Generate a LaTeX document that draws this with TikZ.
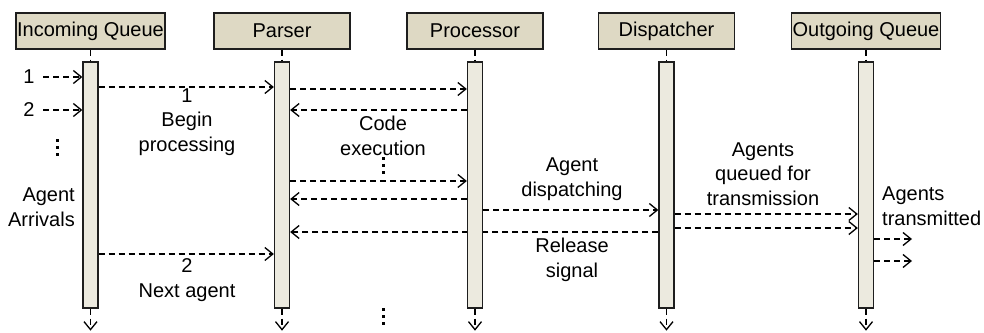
\documentclass[tikz,border=0pt]{standalone}
\usepackage{fontspec}
\setmainfont{Liberation Sans}
\usetikzlibrary{arrows.meta,backgrounds}

\definecolor{headfill}{RGB}{222,217,196}
\definecolor{barfill}{RGB}{236,234,223}
\definecolor{edge}{RGB}{30,30,30}

\tikzset{
  actor/.style={draw=edge, line width=1.3pt, fill=headfill, minimum width=136pt, minimum height=36pt, inner xsep=1pt},
  actbar/.style={draw=edge, line width=1.3pt, fill=barfill, minimum width=15pt, minimum height=246pt, inner sep=0pt},
  msg/.style={line width=1.3pt, dash pattern=on 6pt off 4pt, -{Straight Barb[length=8pt,width=13pt]}},
  stub/.style={line width=1.3pt, dash pattern=on 6pt off 4pt},
  lbl/.style={align=center, inner sep=0pt},
}

% three small square dots
\newcommand{\vdotsat}[1]{%
  \foreach \d in {-7,0,7}
    \fill ([shift={(-1.5pt,\d pt)}]#1) rectangle ++(3pt,3pt);}

\begin{document}
\begin{tikzpicture}[x=1pt, y=-1pt, font=\fontsize{20}{24.5}\selectfont]
\useasboundingbox (0,0) rectangle (984,332);

% lifeline heads
\node[actor] (inq) at (90.5,31) {Incoming Queue};
\node[actor] (parser) at (282,31) {Parser};
\node[actor] (proc) at (475,31) {Processor};
\node[actor] (disp) at (666.5,31) {Dispatcher};
\node[actor] (outq) at (866,31) {Outgoing Queue};

% activation bars
\node[actbar] (inq-bar) at (90.5,185) {};
\node[actbar] (parser-bar) at (282,185) {};
\node[actbar] (proc-bar) at (475,185) {};
\node[actbar] (disp-bar) at (666.5,185) {};
\node[actbar] (outq-bar) at (866,185) {};

\foreach \n in {inq,parser,proc,disp,outq} {
  \coordinate (\n-end) at ([yshift=-22pt]\n-bar.south);
  \draw[stub] (\n.south) -- (\n-bar.north);
  \draw[msg] (\n-bar.south) -- (\n-end);
}

% arrivals
\node (n1) at (29,77) {1};
\node (n2) at (29,110) {2};
\node[lbl, align=right, anchor=east] (arrivals) at (75,207) {Agent\\Arrivals};

% labels
\node[lbl] (begin) at (187,122) {1\\Begin\\processing};
\node[lbl] (code) at (383,136) {Code\\execution};
\node[lbl] (dispatch) at (572,179) {Agent\\dispatching};
\node[lbl] (release) at (572,260) {Release\\signal};
\node[lbl] (queued) at (763,174) {Agents\\queued for\\transmission};
\node[lbl, align=left, anchor=west] (sent) at (882,206) {Agents\\transmitted};
\node[lbl] (next) at (187,280) {2\\Next agent};

% ellipses
\coordinate (dots1) at (57,149);
\coordinate (dots2) at (383,167);
\coordinate (dots3) at (383,318);
\vdotsat{dots1}
\vdotsat{dots2}
\vdotsat{dots3}

\coordinate (t1) at (912,239);
\coordinate (t2) at (912,261);

% messages
\begin{pgfonlayer}{background}
\draw[msg] ([xshift=5pt]n1.east) -- (inq-bar.west |- n1);
\draw[msg] ([xshift=5pt]n2.east) -- (inq-bar.west |- n2);
\draw[msg] (inq-bar.east |- 0,87) -- (parser-bar.west |- 0,87);
\draw[msg] (parser-bar.east |- 0,89) -- (proc-bar.west |- 0,89);
\draw[msg] (proc-bar.west |- 0,110) -- (parser-bar.east |- 0,110);
\draw[msg] (parser-bar.east |- 0,181) -- (proc-bar.west |- 0,181);
\draw[msg] (proc-bar.west |- 0,199) -- (parser-bar.east |- 0,199);
\draw[msg] (proc-bar.east |- 0,210) -- (disp-bar.west |- 0,210);
\draw[msg] (disp-bar.west |- 0,232) -- (parser-bar.east |- 0,232);
\draw[msg] (disp-bar.east |- 0,214) -- (outq-bar.west |- 0,214);
\draw[msg] (disp-bar.east |- 0,228) -- (outq-bar.west |- 0,228);
\draw[msg] (outq-bar.east |- t1) -- (t1);
\draw[msg] (outq-bar.east |- t2) -- (t2);
\draw[msg] (inq-bar.east |- 0,254) -- (parser-bar.west |- 0,254);
\end{pgfonlayer}
\end{tikzpicture}
\end{document}
